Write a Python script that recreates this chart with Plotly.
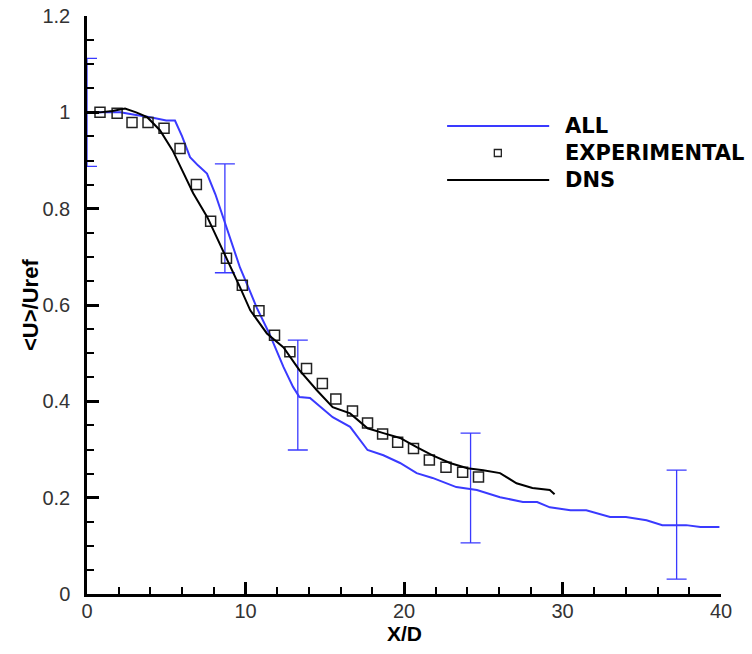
import plotly.graph_objects as go

# ALL (blue curve)
all_x = [0.0, 1.0, 2.1, 3.0, 4.0, 5.0, 5.55, 6.0, 6.5, 7.0, 7.57, 8.1, 8.6, 9.1, 9.65, 10.2, 10.7, 11.5, 12.4, 13.0, 13.4,
         14.07, 15.5, 16.6, 17.7, 18.7, 19.75, 20.8, 21.8, 23.3, 24.6, 26.06, 27.5, 28.4, 29.2, 30.5, 31.5, 33.0,
         34.0, 35.3, 36.3, 37.8, 38.7, 39.9]
all_y = [1.0, 1.0, 1.0, 0.995, 0.99, 0.983, 0.983, 0.95, 0.907, 0.89, 0.873, 0.83, 0.78, 0.73, 0.678, 0.635, 0.595,
         0.541, 0.471, 0.43, 0.409, 0.407, 0.367, 0.347, 0.299, 0.288, 0.272, 0.251, 0.241, 0.222, 0.216, 0.201,
         0.191, 0.191, 0.18, 0.174, 0.174, 0.16, 0.16, 0.153, 0.143, 0.143, 0.139, 0.139]

# DNS (black curve)
dns_x = [0.0, 0.8, 1.6, 2.4, 3.1, 3.8, 4.6, 5.4, 6.0, 6.7, 7.6, 8.2, 8.8, 9.65, 10.3, 11.35, 12.4, 13.4, 14.5, 15.5,
         16.6, 17.7, 18.7, 19.75, 20.8, 21.8, 22.9, 24.0, 25.0, 26.06, 27.1, 28.1, 29.2, 29.5]
dns_y = [1.0, 1.0, 1.003, 1.008, 1.0, 0.99, 0.963, 0.921, 0.88, 0.832, 0.782, 0.74, 0.699, 0.637, 0.589, 0.541,
         0.512, 0.465, 0.423, 0.388, 0.375, 0.344, 0.334, 0.324, 0.305, 0.288, 0.272, 0.261, 0.257, 0.251, 0.23,
         0.22, 0.216, 0.207]

# EXPERIMENTAL (open squares)
exp_x = [0.82, 1.9, 2.84, 3.85, 4.86, 5.87, 6.9, 7.8, 8.8, 9.8, 10.85, 11.83, 12.8, 13.85, 14.85, 15.7, 16.75,
         17.7, 18.65, 19.6, 20.6, 21.6, 22.65, 23.7, 24.7]
exp_y = [1.0, 0.998, 0.979, 0.979, 0.967, 0.925, 0.85, 0.774, 0.697, 0.641, 0.588, 0.537, 0.503, 0.468, 0.437,
         0.405, 0.38, 0.355, 0.332, 0.315, 0.302, 0.278, 0.263, 0.253, 0.243]

# Error bars on the ALL curve
err_x = [0.0, 8.7, 13.3, 24.2, 37.2]
err_y = [1.0, 0.78, 0.413, 0.22, 0.144]
err_size = [0.112, 0.113, 0.114, 0.114, 0.113]

x_ticks = [0, 10, 20, 30, 40]
y_ticks = [0, 0.2, 0.4, 0.6, 0.8, 1.0, 1.2]
y_ticktext = ["0", "0.2", "0.4", "0.6", "0.8", "1", "1.2"]
series_names = ["ALL", "EXPERIMENTAL", "DNS"]

BLUE = "#3a3aff"
FONT = "Liberation Sans"
LEG_FONT = "DejaVu Sans"

fig = go.Figure()
fig.add_trace(go.Scatter(x=err_x, y=err_y, mode="markers", marker=dict(size=1, opacity=0),
                         error_y=dict(type="data", array=err_size, visible=True, color=BLUE,
                                      thickness=1.3, width=10),
                         showlegend=False, hoverinfo="skip"))
fig.add_trace(go.Scatter(x=all_x, y=all_y, mode="lines", name=series_names[0], showlegend=False,
                         line=dict(color=BLUE, width=2)))
fig.add_trace(go.Scatter(x=exp_x, y=exp_y, mode="markers", name=series_names[1], showlegend=False,
                         marker=dict(symbol="square-open", size=10, color="#222",
                                     line=dict(width=1.5, color="#222"))))
fig.add_trace(go.Scatter(x=dns_x, y=dns_y, mode="lines", name=series_names[2], showlegend=False,
                         line=dict(color="black", width=2)))

# Custom legend (long line samples, small square symbol), placed in paper coordinates
leg_x0, leg_x1, leg_xm, leg_text_x = 0.568, 0.729, 0.648, 0.7505
leg_rows = [0.8097, 0.763, 0.7163]
shapes = [
    dict(type="line", xref="paper", yref="paper", x0=leg_x0, x1=leg_x1, y0=leg_rows[0], y1=leg_rows[0],
         line=dict(color=BLUE, width=2)),
    dict(type="rect", xref="paper", yref="paper", xsizemode="pixel", ysizemode="pixel",
         xanchor=leg_xm, yanchor=leg_rows[1], x0=-3.5, x1=3.5, y0=-3.5, y1=3.5,
         line=dict(color="#222", width=1.3)),
    dict(type="line", xref="paper", yref="paper", x0=leg_x0, x1=leg_x1, y0=leg_rows[2], y1=leg_rows[2],
         line=dict(color="black", width=2)),
]
legend_annotations = [
    dict(text="<b>%s</b>" % name, xref="paper", yref="paper", x=leg_text_x, y=row,
         xanchor="left", yanchor="middle", showarrow=False,
         font=dict(family=LEG_FONT, size=21, color="black"))
    for name, row in zip(series_names, leg_rows)
]

fig.update_layout(
    width=752, height=654,
    margin=dict(l=87, r=31, t=16, b=60, autoexpand=False),
    paper_bgcolor="white", plot_bgcolor="white",
    font=dict(family=FONT, color="#333"),
    showlegend=False,
    shapes=shapes,
    xaxis=dict(range=[0, 40], showgrid=False, zeroline=False, showline=True, linecolor="black", linewidth=2.5,
               automargin=False, ticklabeloverflow="allow",
               tickmode="array", tickvals=x_ticks, ticks="inside", ticklen=12, tickwidth=2.5,
               tickcolor="black",
               minor=dict(dtick=2, ticks="inside", ticklen=7, tickwidth=1.5, tickcolor="black"),
               tickfont=dict(family=FONT, size=20, color="#333"), ticklabelstandoff=-3),
    yaxis=dict(range=[0, 1.2001], showgrid=False, zeroline=False, showline=True, linecolor="black", linewidth=2.5,
               automargin=False, ticklabeloverflow="allow",
               tickmode="array", tickvals=y_ticks, ticktext=y_ticktext,
               ticks="inside", ticklen=12, tickwidth=2.5, tickcolor="black",
               minor=dict(dtick=0.05, ticks="inside", ticklen=7, tickwidth=1.5, tickcolor="black"),
               tickfont=dict(family=FONT, size=20, color="#333"), ticklabelstandoff=10),
    annotations=[
        dict(text="<b>X/D</b>", xref="paper", yref="paper", x=0.5, y=0, yshift=-39,
             xanchor="center", yanchor="middle", showarrow=False,
             font=dict(family=FONT, size=21, color="black")),
        dict(text="<b>&lt;U&gt;/Uref</b>", xref="paper", yref="paper", x=0, xshift=-57, y=0.5,
             xanchor="center", yanchor="middle", textangle=-90, showarrow=False,
             font=dict(family=FONT, size=22, color="black")),
    ] + legend_annotations,
)

# remove the default 8px page margin so the 752x654 figure fills the window exactly
fig.write_html("out.html", config={"displayModeBar": False},
               post_script="document.body.style.margin='0px';")
